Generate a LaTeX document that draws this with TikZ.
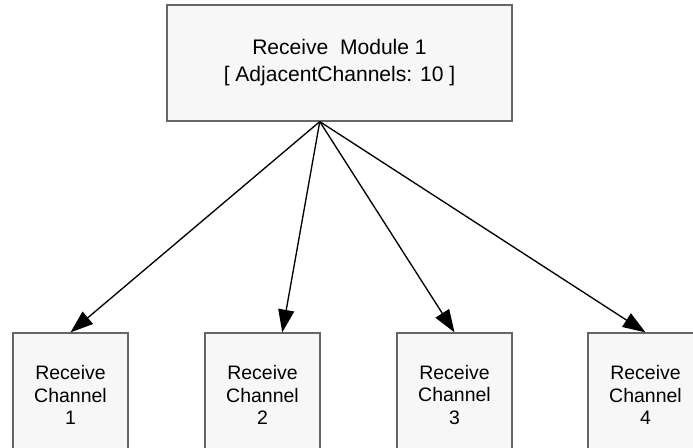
\documentclass[tikz,border=0pt]{standalone}
\usepackage{fontspec}
\setmainfont{Liberation Sans}
\usetikzlibrary{arrows.meta,calc}

\begin{document}
\begin{tikzpicture}[
  x=0.75pt, y=-0.75pt,
  every node/.style={rectangle, draw=black!60, fill=black!3, line width=0.9pt, inner sep=0pt, align=center},
  module/.style={minimum width=258.75pt, minimum height=87pt, font=\fontsize{15.8}{20.2}\selectfont},
  chan/.style={minimum width=86.25pt, minimum height=93pt, font=\fontsize{14.6}{17.2}\selectfont},
  link/.style={line width=1pt, -{Triangle[length=17pt,width=12pt]}}
]
\path[use as bounding box, clip] (0,0) rectangle (693,448);
\node[module] (mod) at (339.5,63) {Receive\ \ Module 1\\{}[ AdjacentChannels: 10 ]};
\foreach \i/\x in {1/70.5,2/262.5,3/454.5,4/645.5}
  \node[chan] (ch\i) at (\x,395) {Receive\\Channel\\\i};
\coordinate (src) at ($(mod.south west)!0.443!(mod.south east)$);
\coordinate (tip2) at ($(ch2.north west)!0.67!(ch2.north east)$);
\draw[link] (src) -- (ch1.north);
\draw[link] (src) -- (tip2);
\draw[link] (src) -- (ch3.north);
\draw[link] (src) -- (ch4.north);
\end{tikzpicture}
\end{document}
